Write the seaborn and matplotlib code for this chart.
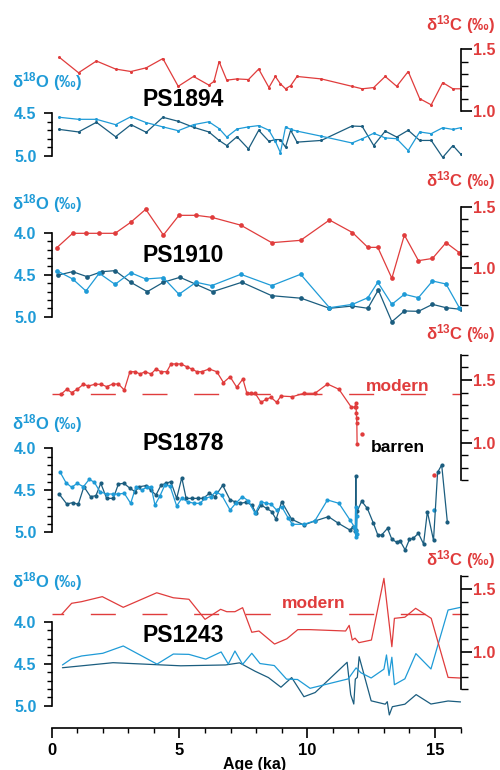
import matplotlib
matplotlib.use("Agg")
import matplotlib.pyplot as plt
import seaborn as sns
from matplotlib.ticker import FixedLocator, StrMethodFormatter

# ---------------- data ----------------
# PS1894
p1_age_c = [0.3, 1.05, 1.75, 2.5, 3.1, 3.7, 4.35, 4.95, 5.55, 6.15, 6.35, 6.55, 6.85, 7.25, 7.7, 8.1, 8.5, 8.75,
            8.95, 9.15, 9.35, 9.6, 10.55, 11.75, 12.15, 12.6, 13.05, 13.5, 13.95, 14.4, 14.85, 15.3, 15.7, 16.0]
p1_d13c = [1.435, 1.31, 1.405, 1.34, 1.32, 1.35, 1.425, 1.20, 1.28, 1.21, 1.24, 1.40, 1.25, 1.26, 1.255, 1.34,
           1.19, 1.28, 1.22, 1.18, 1.205, 1.28, 1.26, 1.20, 1.18, 1.19, 1.28, 1.20, 1.32, 1.10, 1.05, 1.23, 1.18, 1.18]
p1_age_l = [0.3, 1.05, 1.75, 2.5, 3.1, 3.7, 4.35, 4.95, 5.55, 6.15, 6.55, 6.85, 7.25, 7.7, 8.1, 8.5, 8.75, 8.95,
            9.15, 9.35, 9.6, 10.55, 11.75, 12.15, 12.6, 13.05, 13.5, 13.95, 14.4, 14.85, 15.3, 15.7, 16.0]
p1_o_l = [4.547, 4.571, 4.571, 4.634, 4.54, 4.61, 4.66, 4.705, 4.634, 4.60, 4.68, 4.78, 4.685, 4.66, 4.645, 4.70,
          4.83, 4.965, 4.66, 4.69, 4.71, 4.77, 4.85, 4.80, 4.736, 4.79, 4.80, 4.94, 4.72, 4.74, 4.67, 4.69, 4.67]
p1_age_d = [0.3, 1.05, 1.75, 2.5, 3.1, 3.7, 4.35, 4.95, 5.55, 6.15, 6.55, 6.85, 7.25, 7.7, 8.1, 8.5, 8.75, 8.95,
            9.15, 9.35, 9.6, 10.55, 11.75, 12.15, 12.6, 13.05, 13.5, 13.95, 14.4, 14.85, 15.3, 15.7, 16.0]
p1_o_d = [4.69, 4.72, 4.606, 4.776, 4.634, 4.724, 4.547, 4.594, 4.665, 4.72, 4.82, 4.88, 4.776, 4.92, 4.70, 4.83,
          4.81, 4.81, 4.90, 4.70, 4.84, 4.82, 4.65, 4.655, 4.88, 4.71, 4.78, 4.70, 4.82, 4.82, 5.02, 4.88, 4.98]

# PS1910
p2_age_c = [0.2, 0.82, 1.34, 1.86, 2.48, 3.09, 3.68, 4.37, 4.98, 5.65, 6.26, 7.40, 8.61, 9.74, 10.87, 11.77,
            12.37, 12.76, 13.31, 13.8, 14.35, 14.9, 15.43, 15.95]
p2_d13c = [1.167, 1.284, 1.284, 1.284, 1.284, 1.373, 1.479, 1.27, 1.43, 1.43, 1.414, 1.35, 1.208, 1.227, 1.392,
           1.29, 1.17, 1.17, 0.919, 1.27, 1.062, 1.08, 1.208, 1.127]
p2_age_l = p2_age_c
p2_o_l = [4.452, 4.551, 4.694, 4.483, 4.615, 4.476, 4.551, 4.536, 4.733, 4.59, 4.63, 4.495, 4.63, 4.495, 4.893,
          4.853, 4.774, 4.59, 4.853, 4.733, 4.774, 4.575, 4.611, 4.893]
p2_age_d = [0.26, 0.82, 1.39, 1.96, 2.48, 3.09, 3.74, 4.37, 5.02, 5.65, 6.3, 7.44, 8.61, 9.76, 10.87, 11.77,
            12.37, 12.78, 13.31, 13.8, 14.35, 14.9, 15.43, 16.0]
p2_o_d = [4.504, 4.464, 4.524, 4.464, 4.452, 4.59, 4.702, 4.59, 4.531, 4.615, 4.702, 4.59, 4.75, 4.78, 4.90,
          4.873, 4.90, 4.682, 5.06, 4.932, 4.936, 4.853, 4.893, 4.912]

# PS1878
p3_age_c = [0.36, 0.59, 0.78, 1.0, 1.24, 1.43, 1.69, 1.93, 2.15, 2.39, 2.61, 2.84, 3.06, 3.26, 3.46, 3.65, 3.89,
            4.08, 4.27, 4.5, 4.67, 4.87, 5.06, 5.28, 5.48, 5.68, 5.87, 6.16, 6.46, 6.72, 6.98, 7.24, 7.48, 7.63,
            7.8, 7.96, 8.19, 8.39, 8.58, 8.8, 8.97, 9.42, 9.87, 10.3, 10.79, 11.24, 11.71, 11.87, 11.9, 11.91,
            11.92, 11.93, 11.94, 11.95]
p3_d13c = [1.386, 1.426, 1.40, 1.426, 1.466, 1.452, 1.466, 1.466, 1.447, 1.468, 1.468, 1.42, 1.566, 1.566, 1.548,
           1.566, 1.548, 1.588, 1.566, 1.566, 1.628, 1.628, 1.628, 1.606, 1.588, 1.566, 1.566, 1.588, 1.566, 1.48,
           1.526, 1.442, 1.508, 1.40, 1.394, 1.394, 1.322, 1.346, 1.362, 1.322, 1.372, 1.367, 1.394, 1.394, 1.468,
           1.426, 1.287, 1.282, 1.319, 1.282, 1.24, 1.195, 1.155, 0.987]
p3_age_c_iso = [12.13, 14.94]
p3_d13c_iso = [1.067, 0.742]
p3_age_l = [0.32, 0.56, 0.78, 1.0, 1.24, 1.47, 1.67, 1.89, 2.15, 2.39, 2.61, 2.84, 3.09, 3.29, 3.52, 3.72, 3.89,
            4.04, 4.24, 4.43, 4.63, 4.89, 5.09, 5.32, 5.57, 5.8, 6.0, 6.22, 6.42, 6.65, 6.98, 7.2, 7.46, 7.69, 7.96,
            8.19, 8.39, 8.58, 8.8, 9.0, 9.26, 9.42, 9.87, 10.3, 10.79, 11.24, 11.67, 11.84, 11.9, 11.91, 11.92,
            11.93, 11.94]
p3_o_l = [4.279, 4.41, 4.464, 4.417, 4.457, 4.369, 4.405, 4.517, 4.544, 4.544, 4.544, 4.536, 4.655, 4.464, 4.496,
          4.464, 4.457, 4.675, 4.564, 4.437, 4.449, 4.687, 4.595, 4.636, 4.655, 4.655, 4.595, 4.576, 4.517, 4.556,
          4.735, 4.655, 4.576, 4.624, 4.775, 4.636, 4.655, 4.663, 4.735, 4.695, 4.833, 4.905, 4.905, 4.862, 4.615,
          4.655, 4.853, 4.933, 5.05, 4.70, 4.98, 4.80, 5.02]
p3_age_l_iso = [14.94]
p3_o_l_iso = [4.735]
p3_age_d = [0.3, 0.59, 0.82, 1.04, 1.26, 1.52, 1.73, 1.92, 2.15, 2.41, 2.61, 2.83, 3.06, 3.26, 3.43, 3.68, 3.87,
            4.08, 4.28, 4.47, 4.66, 4.89, 5.09, 5.26, 5.48, 5.71, 5.93, 6.17, 6.39, 6.69, 6.98, 7.17, 7.37, 7.6,
            7.83, 8.0, 8.19, 8.41, 8.61, 8.78, 9.0, 9.39, 9.87, 10.3, 10.83, 11.22, 11.67, 11.8, 11.88, 11.9,
            11.92, 11.95, 12.13, 12.35, 12.59, 12.76, 12.91, 13.14, 13.31, 13.5, 13.63, 13.83, 14.0, 14.15, 14.35,
            14.55, 14.7, 14.94, 15.1, 15.26, 15.48]
p3_o_d = [4.548, 4.663, 4.647, 4.667, 4.457, 4.576, 4.564, 4.417, 4.596, 4.596, 4.425, 4.417, 4.476, 4.516, 4.457,
          4.445, 4.496, 4.556, 4.437, 4.417, 4.397, 4.596, 4.35, 4.596, 4.596, 4.596, 4.596, 4.536, 4.576, 4.44,
          4.615, 4.635, 4.655, 4.643, 4.675, 4.774, 4.675, 4.715, 4.754, 4.845, 4.635, 4.845, 4.913, 4.865, 4.814,
          4.893, 4.973, 4.933, 4.98, 4.33, 4.97, 4.75, 4.63, 4.715, 4.893, 5.032, 5.032, 4.953, 5.083, 5.119, 5.1,
          5.21, 5.083, 5.071, 5.012, 5.139, 4.754, 5.095, 4.286, 4.198, 4.873]

# PS1243
p4_age_c = [0.39, 0.78, 1.17, 1.98, 2.8, 4.11, 4.76, 5.37, 6.0, 6.61, 6.85, 7.17, 7.47, 7.83, 8.11, 8.72, 9.2,
            9.63, 10.1, 11.5, 11.64, 11.76, 11.87, 12.02, 12.51, 13.0, 13.31, 13.41, 13.82, 14.24, 14.85, 15.51, 16.0]
p4_d13c = [1.298, 1.386, 1.399, 1.439, 1.354, 1.47, 1.43, 1.418, 1.258, 1.338, 1.319, 1.319, 1.351, 1.155, 1.165,
           1.061, 1.103, 1.176, 1.176, 1.165, 1.21, 1.093, 1.108, 1.072, 1.093, 1.585, 1.04, 1.266, 1.275, 1.346,
           1.266, 0.795, 0.79]
p4_age_l = [0.42, 0.78, 1.17, 2.0, 2.8, 4.12, 4.76, 5.37, 6.03, 6.63, 6.91, 7.17, 7.47, 7.83, 8.15, 8.71, 9.19,
            9.62, 10.11, 11.6, 11.91, 12.1, 12.5, 13.0, 13.1, 13.2, 13.31, 13.41, 13.82, 14.25, 14.84, 15.51, 16.0]
p4_o_l = [4.515, 4.44, 4.408, 4.376, 4.289, 4.505, 4.385, 4.389, 4.446, 4.36, 4.504, 4.349, 4.508, 4.376, 4.498,
          4.522, 4.684, 4.688, 4.793, 4.681, 4.55, 4.608, 4.67, 4.565, 4.396, 4.64, 4.423, 4.75, 4.68, 4.38, 4.563,
          3.861, 3.829]
p4_age_d = [0.42, 2.4, 5.05, 6.8, 7.35, 7.96, 8.48, 8.97, 9.39, 9.87, 10.31, 11.56, 11.7, 11.82, 11.88, 11.96,
            12.03, 12.5, 13.05, 13.13, 13.21, 13.33, 13.82, 14.26, 14.84, 15.51, 16.0]
p4_o_d = [4.548, 4.488, 4.525, 4.515, 4.49, 4.59, 4.665, 4.78, 4.665, 4.893, 4.843, 4.483, 4.868, 4.98, 4.684,
          4.662, 4.417, 4.942, 4.982, 4.952, 5.11, 5.012, 4.982, 4.868, 4.98, 4.944, 4.955]

core_names = ["PS1894", "PS1910", "PS1878", "PS1243"]
modern_d13c = [None, None, 1.385, 1.298]
x_ticks = [0, 5, 10, 15]

# ---------------- style ----------------
sns.set_style("white")
plt.rcParams["font.family"] = ["Liberation Sans", "DejaVu Sans"]
plt.rcParams["font.weight"] = "bold"
plt.rcParams["mathtext.fontset"] = "custom"
plt.rcParams["mathtext.rm"] = "Liberation Sans:bold"
plt.rcParams["mathtext.bf"] = "Liberation Sans:bold"
plt.rcParams["mathtext.it"] = "Liberation Sans:bold"
plt.rcParams["mathtext.default"] = "bf"
plt.rcParams["lines.scale_dashes"] = False

RED = "#e03c3c"
LB = "#1f9bd7"
DB = "#1b5d7f"

W, H = 500, 770
L, R = 51.7, 460.6
fig = plt.figure(figsize=(5, 7.7), dpi=100)


def rect(top, bot):
    return [L / W, 1 - bot / H, (R - L) / W, (bot - top) / H]


def lim(v1, p1, v2, p2, top, bot):
    s = (v2 - v1) / (p2 - p1)
    return v1 + (bot - p1) * s, v1 + (top - p1) * s


layout = [
    dict(band=(38, 165), o=(4.5, 113.3, 5.0, 155.7), c=(1.5, 49.3, 1.0, 111.0),
         ob=(4.5, 5.0), cb=(1.0, 1.5), ms=2.2,
         o_lab=82, c_lab=25, name_y=99),
    dict(band=(190, 325), o=(4.0, 232.7, 5.0, 316.7), c=(1.5, 206.7, 1.0, 268.3),
         ob=(4.0, 5.0), cb=(0.7, 1.5), ms=3.4,
         o_lab=204, c_lab=181, name_y=255.5),
    dict(band=(345, 560), o=(4.0, 448.3, 5.0, 532.3), c=(1.5, 380.0, 1.0, 442.7),
         ob=(4.0, 5.0), cb=(0.7, 1.7), ms=3.0,
         o_lab=424, c_lab=334, name_y=443),
    dict(band=(565, 727.7), o=(4.0, 621.7, 5.0, 705.7), c=(1.5, 589.0, 1.0, 651.7),
         ob=(4.0, 5.0), cb=(0.7, 1.6), ms=0,
         o_lab=582, c_lab=560, name_y=636),
]

series = [
    (p1_age_c, p1_d13c, p1_age_l, p1_o_l, p1_age_d, p1_o_d),
    (p2_age_c, p2_d13c, p2_age_l, p2_o_l, p2_age_d, p2_o_d),
    (p3_age_c, p3_d13c, p3_age_l, p3_o_l, p3_age_d, p3_o_d),
    (p4_age_c, p4_d13c, p4_age_l, p4_o_l, p4_age_d, p4_o_d),
]


def frange(a, b, step):
    n = int(round((b - a) / step))
    return [round(a + i * step, 3) for i in range(n + 1)]


for i, (lay, ser) in enumerate(zip(layout, series)):
    top, bot = lay["band"]
    ax = fig.add_axes(rect(top, bot))
    ax.patch.set_alpha(0)
    ax2 = ax.twinx()
    ax2.patch.set_alpha(0)
    age_c, d13c, age_l, o_l, age_d, o_d = ser
    mk = "o" if lay["ms"] > 0 else None
    kw = dict(sort=False, estimator=None, lw=0.9, marker=mk, markersize=lay["ms"], markeredgewidth=0)

    sns.lineplot(x=age_d, y=o_d, ax=ax, color=DB, **kw)
    sns.lineplot(x=age_l, y=o_l, ax=ax, color=LB, **kw)
    sns.lineplot(x=age_c, y=d13c, ax=ax2, color=RED, **kw)
    if i == 2:
        sns.scatterplot(x=p3_age_c_iso, y=p3_d13c_iso, ax=ax2, color=RED, s=10, linewidth=0)
        sns.scatterplot(x=p3_age_l_iso, y=p3_o_l_iso, ax=ax, color=LB, s=10, linewidth=0)
    if modern_d13c[i] is not None:
        ax2.axhline(modern_d13c[i], color=RED, lw=1.0, linestyle=(9.6, (18.0, 19.2)), zorder=1)

    ax.set_xlim(0, 16)
    ax.set_ylim(*lim(*lay["o"], top, bot))
    ax2.set_ylim(*lim(*lay["c"], top, bot))
    for a in (ax, ax2):
        a.set_xlabel("")
        a.set_ylabel("")
        for s in a.spines.values():
            s.set_visible(False)
            s.set_linewidth(1.2)
            s.set_color("black")

    ax.spines["left"].set_visible(True)
    ax.spines["left"].set_bounds(*lay["ob"])
    ax2.spines["right"].set_visible(True)
    ax2.spines["right"].set_bounds(*lay["cb"])

    ob = lay["ob"]
    ax.yaxis.set_major_locator(FixedLocator([v for v in [4.0, 4.5, 5.0] if ob[0] <= v <= ob[1]]))
    ax.yaxis.set_minor_locator(FixedLocator(frange(ob[0], ob[1], 0.1)))
    ax.yaxis.set_major_formatter(StrMethodFormatter("{x:.1f}"))
    ax.tick_params(axis="y", which="major", left=True, direction="out", length=6, width=1.2,
                   color="black", labelcolor=LB, labelsize=11.5, pad=5)
    ax.tick_params(axis="y", which="minor", left=True, direction="out", length=3.5, width=1.0, color="black")

    cb = lay["cb"]
    ax2.yaxis.set_major_locator(FixedLocator([v for v in [1.0, 1.5] if cb[0] <= v <= cb[1]]))
    ax2.yaxis.set_minor_locator(FixedLocator(frange(cb[0], cb[1], 0.1)))
    ax2.yaxis.set_major_formatter(StrMethodFormatter("{x:.1f}"))
    ax2.tick_params(axis="y", which="major", right=True, direction="out", length=8, width=1.2,
                    color="black", labelcolor=RED, labelsize=11.5, pad=1)
    ax2.tick_params(axis="y", which="minor", right=True, direction="out", length=5, width=1.0, color="black")

    if i == 3:
        ax.spines["bottom"].set_visible(True)
        ax.spines["bottom"].set_bounds(0, 16)
        ax.xaxis.set_major_locator(FixedLocator(x_ticks))
        ax.xaxis.set_minor_locator(FixedLocator(list(range(0, 17))))
        ax.tick_params(axis="x", which="major", bottom=True, direction="out", length=7, width=1.2,
                       color="black", labelcolor="black", labelsize=12, pad=4)
        ax.tick_params(axis="x", which="minor", bottom=True, direction="out", length=3.8, width=1.0,
                       color="black")
    else:
        ax.tick_params(axis="x", which="both", bottom=False, labelbottom=False)

    fig.text(12 / W, 1 - lay["o_lab"] / H, "δ$^{18}$O (‰)", color=LB, fontsize=12,
             ha="left", va="center", fontweight="bold")
    fig.text(495 / W, 1 - lay["c_lab"] / H, "δ$^{13}$C (‰)", color=RED, fontsize=12,
             ha="right", va="center", fontweight="bold")
    fig.text(143 / W, 1 - lay["name_y"] / H, core_names[i], color="black", fontsize=16.5,
             ha="left", va="center", fontweight="bold")

fig.text(397.5 / W, 1 - 386.7 / H, "modern", color=RED, fontsize=12.5, ha="center", va="center",
         fontweight="bold")
fig.text(314 / W, 1 - 604 / H, "modern", color=RED, fontsize=12.5, ha="center", va="center",
         fontweight="bold")
fig.text(397.5 / W, 1 - 448 / H, "barren", color="black", fontsize=12.5, ha="center", va="center",
         fontweight="bold")
fig.text(255 / W, 1 - 764 / H, "Age (ka)", color="black", fontsize=11.5, ha="center", va="center",
         fontweight="bold")

fig.savefig("out.png", dpi=100)
